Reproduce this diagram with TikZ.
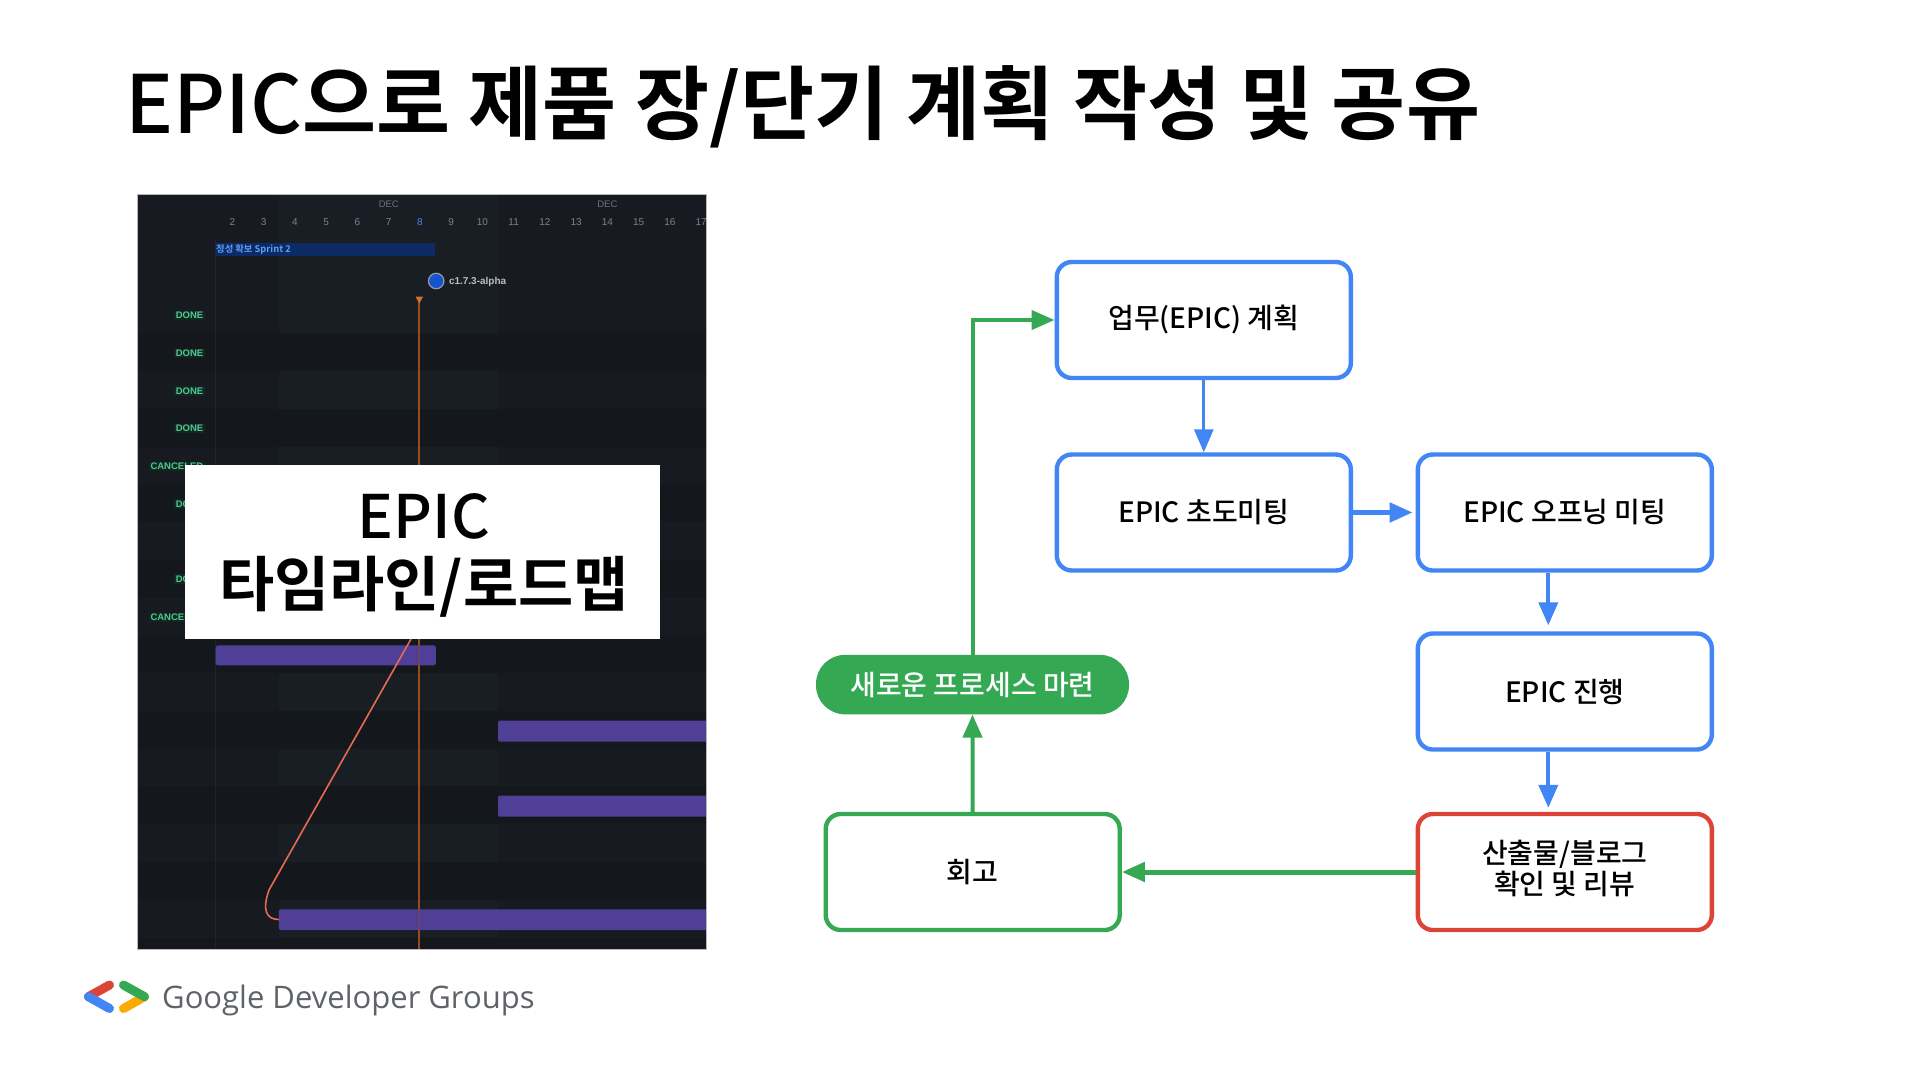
\documentclass[tikz,border=0pt]{standalone}
\usepackage{fontspec}
\usetikzlibrary{arrows.meta,calc}
\newfontfamily\kr{Noto Sans CJK KR}
\newfontfamily\krm{Noto Sans CJK KR Medium}
\newfontfamily\krb{Noto Sans CJK KR Bold}
\newfontfamily\lib{Liberation Sans}
\newfontfamily\opn{Open Sans}
\definecolor{gblue}{HTML}{4285F4}
\definecolor{ggreen}{HTML}{34A853}
\definecolor{gred}{HTML}{DB4437}
\definecolor{gyellow}{HTML}{F9AB00}
\definecolor{pdark}{HTML}{14171B}
\definecolor{plight}{HTML}{191D24}
\definecolor{pbar}{HTML}{4F3F96}
\definecolor{donefg}{HTML}{55C596}
\definecolor{donebg}{HTML}{10291F}
\definecolor{dayc}{HTML}{7D838B}
\definecolor{decc}{HTML}{6E747B}
\definecolor{daysel}{HTML}{3C8BEA}
\definecolor{sprintbar}{HTML}{0C2A63}
\definecolor{sprinttxt}{HTML}{5C9DF5}
\definecolor{relfill}{HTML}{1553D0}
\definecolor{reltxt}{HTML}{B9BDC4}
\definecolor{nowline}{HTML}{9A4A1E}
\definecolor{nowtip}{HTML}{D4702A}
\definecolor{depline}{HTML}{E86A50}
\definecolor{gdgtxt}{HTML}{5F6368}
\tikzset{
  flowbox/.style={draw=#1,line width=4.4pt,rounded corners=15pt,fill=white,minimum width=294pt,minimum height=116pt,inner sep=0pt,align=center,text=black,font=\krm\fontsize{28}{32}\selectfont},
  flowarrow/.style={draw=#1,line width=4pt,-{Triangle[length=23pt,width=19pt]}},
  daylab/.style={text=#1,font=\lib\fontsize{10}{12}\selectfont,inner sep=0pt},
  status/.style={fill=donebg,text=donefg,font=\lib\bfseries\fontsize{9.5}{11}\selectfont,inner xsep=2pt,inner ysep=1.2pt,anchor=east},
  ganttbar/.style={fill=pbar,rounded corners=1.5pt},
  logostroke/.style={line width=9pt,line cap=round,draw=#1},
}
\begin{document}
\begin{tikzpicture}[x=1pt,y=-1pt]
\useasboundingbox (0,0) rectangle (1920,1080);
\fill[white] (0,0) rectangle (1920,1080);
% title
\node[anchor=base west,inner sep=0pt,font=\krb\fontsize{80.5}{90}\selectfont,text=black] (title) at (125,133.5) {{\krm EPIC}으로 제품 장/단기 계획 작성 및 공유};
% panel
\begin{scope}
\clip (137.3,194.5) rectangle (706.5,949);
\fill[plight] (137.3,194.5) rectangle (706.5,949);
\foreach \t in {333,409,484.5,560,635.5,711,786,862,938}{
  \fill[pdark] (137.3,\t) rectangle (706.5,\t+37.7);
}
\fill[pdark,opacity=.3] (137.3,194.5) rectangle (278.8,949);
\fill[pdark,opacity=.3] (498,194.5) rectangle (706.5,949);
\draw[white,opacity=.05,line width=1pt] (215.7,240) -- (215.7,949);
\foreach \d in {2,...,17}{
  \pgfmathsetmacro\xx{232.5+31.24*(\d-2)}
  \ifnum\d=8 \node[daylab=daysel] (day\d) at (\xx,222) {\d};
  \else \node[daylab=dayc] (day\d) at (\xx,222) {\d};\fi
}
\node[daylab=decc,font=\lib\fontsize{9.5}{11}\selectfont] (dec1) at (388.8,204) {DEC};
\node[daylab=decc,font=\lib\fontsize{9.5}{11}\selectfont] (dec2) at (607.4,204) {DEC};
\fill[sprintbar] (215.7,242.7) rectangle (434.5,255.7);
\node[anchor=west,inner sep=0pt,text=sprinttxt,font=\krb\fontsize{9.3}{11}\selectfont] (sprint) at (216,250) {정성 확보 Sprint 2};
\node[circle,draw=gray!80,line width=1.2pt,fill=relfill,minimum size=15.5pt,inner sep=0pt] (rel) at (436.2,281) {};
\node[anchor=west,inner sep=0pt,text=reltxt,font=\lib\bfseries\fontsize{10}{12}\selectfont] (rellab) at (448.8,282) {c1.7.3-alpha};
\draw[nowline,line width=1.8pt] (419.3,298) -- (419.3,949);
\fill[nowtip] (415.5,296.5) -- (423.1,296.5) -- (419.3,303.5) -- cycle;
\foreach \y/\s in {315.7/DONE,353.3/DONE,391/DONE,428.7/DONE,466.3/CANCELED,504/DONE,579/DONE,617.7/CANCELED}{
  \node[status] at (205.5,\y) {\s};
}
\fill[ganttbar] (215.7,645.3) rectangle (435.8,665.3);
\fill[ganttbar] (498,720.7) rectangle (725,741.7);
\fill[ganttbar] (498,795.7) rectangle (725,816.7);
\fill[ganttbar] (278.8,909.3) rectangle (725,930);
\draw[nowline,opacity=.6,line width=1.5pt] (419.3,645.3) -- (419.3,665.3) (419.3,909.3) -- (419.3,930);
\draw[depline,line width=1.6pt] (279,919.5) .. controls (266,919.5) and (262,910) .. (269,890) -- (411,639);
\end{scope}
\draw[gray!55,line width=.6pt] (137.3,194.5) rectangle (706.5,949);
% white label
\node[fill=white,minimum width=475pt,minimum height=174.3pt,inner sep=0pt] (panelbox) at (422.2,552.2) {};
\node[inner sep=0pt,anchor=base,font=\krm\fontsize{60}{70}\selectfont] (l1) at (424,538) {EPIC};
\node[inner sep=0pt,anchor=base,font=\krb\fontsize{60}{70}\selectfont] (l2) at (424,606) {타임라인/로드맵};
% logo
\draw[logostroke=gred] (109.5,985) -- (88.5,996.7);
\draw[logostroke=gblue] (88.5,996.7) -- (109.5,1008.5);
\draw[logostroke=gyellow] (144.5,996.7) -- (123.5,1008.5);
\draw[logostroke=ggreen] (123.5,985) -- (144.5,996.7);
\node[anchor=base west,inner sep=0pt,text=gdgtxt,font=\opn\fontsize{31}{36}\selectfont] (gdg) at (162,1008.7) {Google Developer Groups};
% flow
\node[flowbox=gblue] (plan) at (1203.8,320) {\raisebox{-1pt}{업무(EPIC) 계획}};
\node[flowbox=gblue] (kick) at (1203.8,512.5) {\raisebox{1pt}{EPIC 초도미팅}};
\node[flowbox=gblue] (open) at (1564.8,512.5) {\raisebox{1pt}{EPIC 오프닝 미팅}};
\node[flowbox=gblue] (prog) at (1564.8,691.5) {\raisebox{1pt}{EPIC 진행}};
\node[flowbox=gred] (out) at (1564.8,872) {\raisebox{1pt}{\begin{tabular}{@{}c@{}}산출물/블로그\\[-2pt]확인 및 리뷰\end{tabular}}};
\node[flowbox=ggreen] (retro) at (972.7,872) {\raisebox{1pt}{회고}};
\node[fill=ggreen,rounded corners=29pt,minimum width=313pt,minimum height=59.5pt,inner sep=0pt,text=white,font=\krm\fontsize{28}{32}\selectfont] (new) at (972.5,684.6) {새로운 프로세스 마련};
\draw[flowarrow=gblue,line width=3pt] (plan.south) -- (kick.north);
\draw[flowarrow=gblue,line width=5pt,shorten >=3pt] (kick.east) -- (open.west);
\draw[flowarrow=gblue] ([xshift=-16.5pt]open.south) -- ([yshift=6pt,xshift=-16.5pt]prog.north);
\draw[flowarrow=gblue] ([xshift=-16.5pt]prog.south) -- ([yshift=4pt,xshift=-16.5pt]out.north);
\draw[flowarrow=ggreen,line width=5pt] (out.west) -- (retro.east);
\draw[flowarrow=ggreen] (retro.north) -- (new.south);
\draw[flowarrow=ggreen] (new.north) |- (plan.west);
\end{tikzpicture}
\end{document}
